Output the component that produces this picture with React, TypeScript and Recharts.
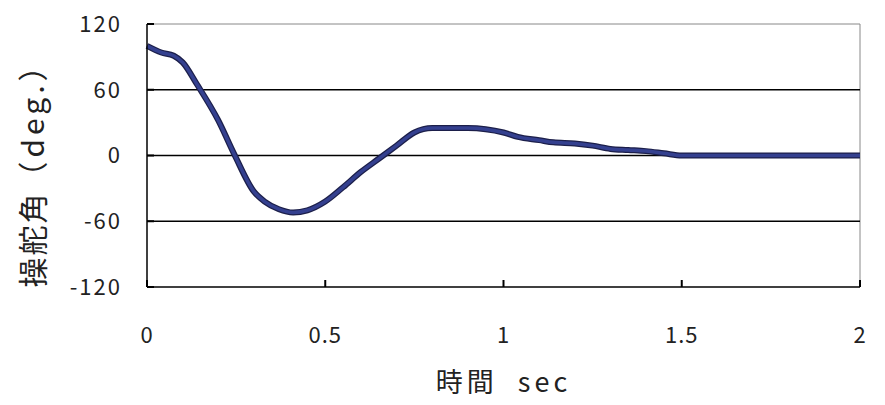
import { LineChart, Line, XAxis, YAxis, ReferenceLine } from "recharts"

const times = [
  0, 0.04, 0.075, 0.1, 0.14, 0.2, 0.245, 0.3, 0.33, 0.37, 0.41, 0.45, 0.5, 0.55,
  0.6, 0.65, 0.7, 0.75, 0.8, 0.85, 0.9, 0.95, 1.0, 1.04, 1.1, 1.14, 1.2, 1.25,
  1.3, 1.35, 1.4, 1.45, 1.5, 1.75, 2.0,
]
const angles = [
  100, 94, 91, 85, 65, 32, 1, -33, -42, -49, -52, -50, -42, -29, -15, -3, 9,
  21, 25, 25, 25, 24, 21, 17, 14, 12, 11, 9, 6, 5, 4, 2, 0, 0, 0,
]

const xTicks = [0, 0.5, 1, 1.5, 2]
const yTicks = [-120, -60, 0, 60, 120]
const gridValues = [60, 0, -60]

const data = times.map((t, i) => ({ t, angle: angles[i] }))

const font = "'Noto Sans CJK JP', 'Noto Sans', sans-serif"
const X_MARGIN = 40
const Y_MARGIN = 25
const TICK_LEN = 7

// ticks point inward, so draw the little mark together with the label
function XTick(props: any) {
  const { x, y, payload } = props
  const axisY = y - X_MARGIN
  return (
    <g>
      <line x1={x} x2={x} y1={axisY} y2={axisY - TICK_LEN} stroke="#000" strokeWidth={2} />
      <text x={x} y={y} dy="0.71em" textAnchor="middle" fontSize={22} fontFamily={font} fill="#222" letterSpacing={1}>
        {payload.value}
      </text>
    </g>
  )
}

function YTick(props: any) {
  const { x, y, payload } = props
  const axisX = x + Y_MARGIN
  return (
    <g>
      <line x1={axisX} x2={axisX + TICK_LEN} y1={y} y2={y} stroke="#000" strokeWidth={2} />
      <text x={x} y={y} dy="0.36em" textAnchor="end" fontSize={22} fontFamily={font} fill="#222" letterSpacing={2}>
        {payload.value}
      </text>
    </g>
  )
}

export default function App() {
  return (
    <div style={{ position: "absolute", left: 0, top: 0, background: "#fff" }}>
      <LineChart
        width={885}
        height={405}
        data={data}
        margin={{ top: 24, right: 25, bottom: 0, left: 0 }}
      >
        <XAxis
          dataKey="t"
          type="number"
          domain={[0, 2]}
          ticks={xTicks}
          height={118}
          stroke="#000"
          strokeWidth={1.5}
          tickSize={0}
          tickMargin={X_MARGIN}
          tick={<XTick />}
          label={{
            content: ({ viewBox }: any) => (
              <text
                x={viewBox.x + viewBox.width / 2}
                y={viewBox.y + 105}
                textAnchor="middle"
                fontSize={27}
                fontFamily={font}
                fill="#222"
                letterSpacing={4}
              >
                時間{"\u00a0\u00a0"}sec
              </text>
            ),
          }}
        />
        <YAxis
          type="number"
          domain={[-120, 120]}
          ticks={yTicks}
          width={147}
          stroke="#000"
          strokeWidth={1.5}
          tickSize={0}
          tickMargin={Y_MARGIN}
          tick={<YTick />}
          label={{
            content: ({ viewBox }: any) => {
              const cx = viewBox.x + 31
              const cy = viewBox.y + viewBox.height / 2 + 12
              return (
                <text
                  x={cx}
                  y={cy}
                  textAnchor="middle"
                  dominantBaseline="central"
                  fontSize={30}
                  fontFamily={font}
                  fill="#222"
                  transform={`rotate(-90 ${cx} ${cy})`}
                >
                  <tspan letterSpacing={2}>操舵角</tspan>
                  <tspan letterSpacing={4}>（deg.）</tspan>
                </text>
              )
            },
          }}
        />
        <ReferenceLine y={120} stroke="#888" strokeWidth={1} />
        <ReferenceLine x={2} stroke="#888" strokeWidth={1} />
        {gridValues.map((v) => (
          <ReferenceLine key={v} y={v} stroke="#000" strokeWidth={1.5} />
        ))}
        <Line
          type="monotone"
          dataKey="angle"
          stroke="#1c1f4a"
          strokeWidth={6}
          dot={false}
          isAnimationActive={false}
        />
        <Line
          type="monotone"
          dataKey="angle"
          stroke="#34408f"
          strokeWidth={3.5}
          dot={false}
          isAnimationActive={false}
        />
      </LineChart>
    </div>
  )
}
